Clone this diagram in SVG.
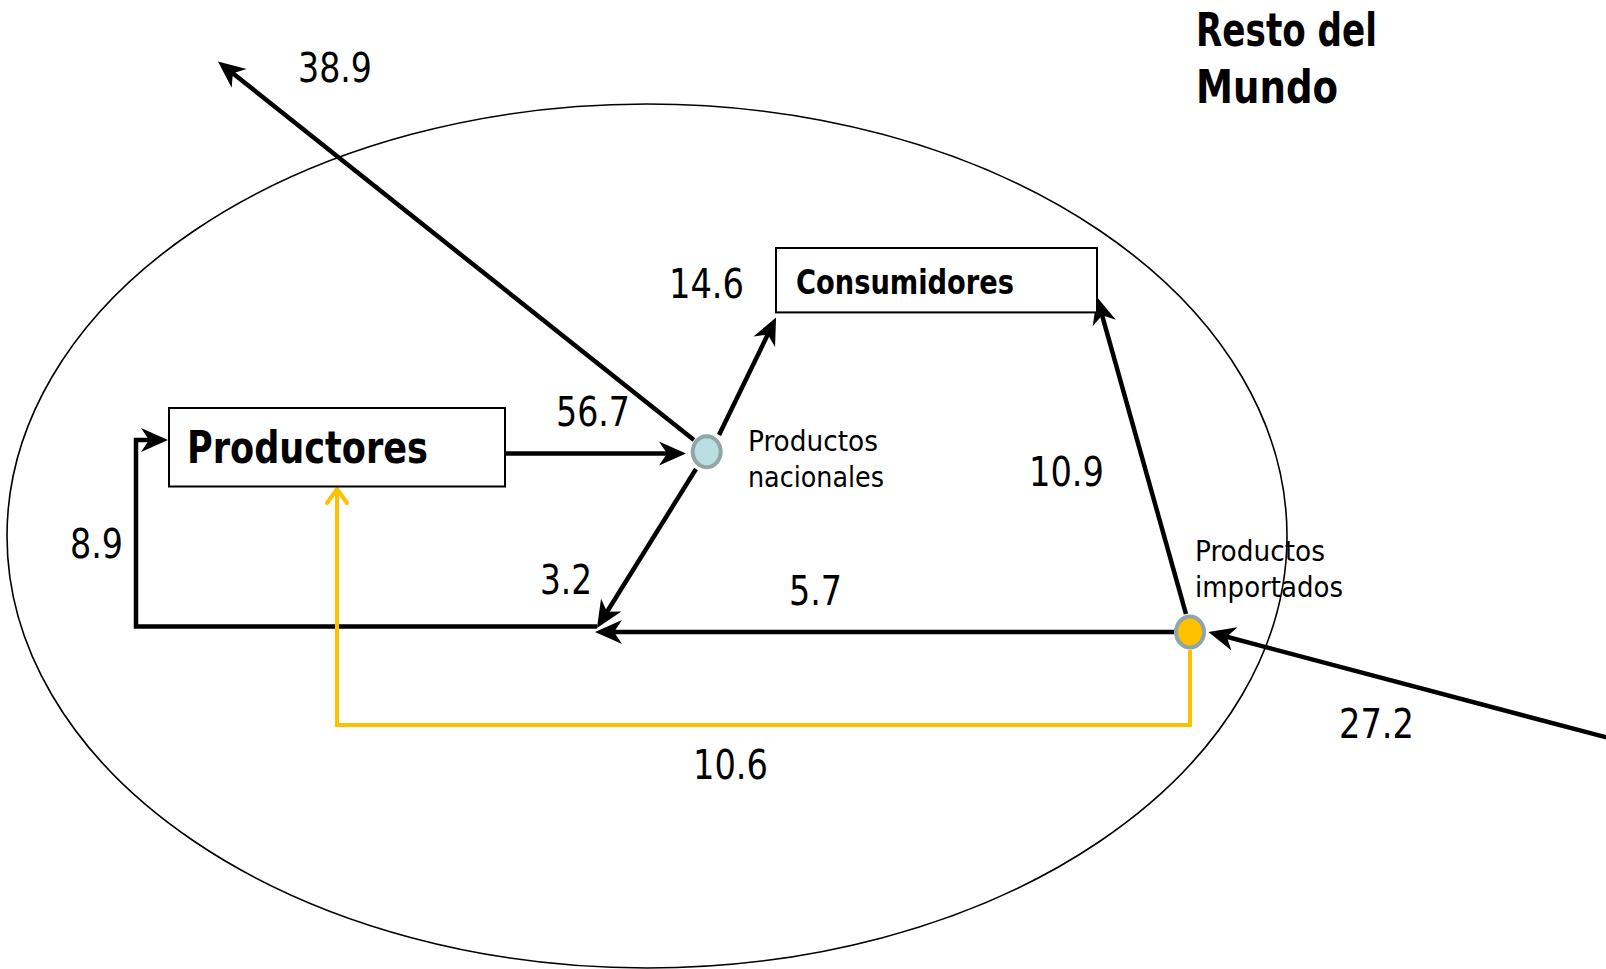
<svg xmlns="http://www.w3.org/2000/svg" width="1606" height="969" viewBox="0 0 1606 969">
<defs>
<style>
.lbl{font-family:"Liberation Sans Narrow","DejaVu Sans Condensed","Liberation Sans",sans-serif;font-size:40px;fill:#000}
.sm{font-family:"Liberation Sans Narrow","DejaVu Sans Condensed","Liberation Sans",sans-serif;font-size:29px;fill:#000}
.bold{font-family:"Liberation Sans Narrow","DejaVu Sans Condensed","Liberation Sans",sans-serif;font-weight:bold;fill:#000}
.box{fill:#fff;stroke:#000;stroke-width:2}
.flow{fill:none;stroke:#000;stroke-width:4.5;stroke-linejoin:miter}
.yflow{fill:none;stroke:#ffc000;stroke-width:4}
</style>
<marker id="ah" markerUnits="userSpaceOnUse" viewBox="-28 -14 30 28" markerWidth="30" markerHeight="28" refX="-12" refY="0" orient="auto">
<path d="M0,0 L-27,-12 L-19,0 L-27,12 Z" fill="#000"/>
</marker>
</defs>
<rect width="1606" height="969" fill="#fff"/>
<ellipse cx="647" cy="536" rx="640" ry="432" fill="none" stroke="#000" stroke-width="1.6"/>

<g id="connectors">
<line class="flow" x1="505" y1="453.5" x2="674" y2="453.5" marker-end="url(#ah)"/>
<line class="flow" x1="694" y1="440" x2="227.4" y2="69" marker-end="url(#ah)"/>
<line class="flow" x1="719" y1="435" x2="770.8" y2="328.3" marker-end="url(#ah)"/>
<line class="flow" x1="696" y1="469" x2="603.3" y2="617.8" marker-end="url(#ah)"/>
<line class="flow" x1="1186" y1="614" x2="1100.2" y2="308.6" marker-end="url(#ah)"/>
<line class="flow" x1="1174" y1="632" x2="607" y2="632" marker-end="url(#ah)"/>
<line class="flow" x1="1620" y1="741" x2="1220" y2="635" marker-end="url(#ah)"/>
<polyline class="flow" points="597,626.5 136,626.5 136,440 156,440" marker-end="url(#ah)"/>
<polyline class="yflow" points="1190,650 1190,725 337,725 337,490"/>
<polyline class="yflow" points="327,503 337,489 347,503" stroke-linecap="round" stroke-linejoin="round"/>
</g>

<g id="productores">
<rect class="box" x="169" y="408" width="336" height="78.5"/>
<text class="bold" x="187" y="463" font-size="44" textLength="241" lengthAdjust="spacingAndGlyphs">Productores</text>
</g>
<g id="consumidores">
<rect class="box" x="776" y="248" width="321" height="64.4"/>
<text class="bold" x="796" y="294" font-size="34" textLength="218" lengthAdjust="spacingAndGlyphs">Consumidores</text>
</g>
<g id="resto">
<text class="bold" x="1196" y="46" font-size="46" textLength="181" lengthAdjust="spacingAndGlyphs">Resto del</text>
<text class="bold" x="1196" y="103" font-size="46" textLength="142" lengthAdjust="spacingAndGlyphs">Mundo</text>
</g>
<g id="nacionales">
<ellipse cx="706.7" cy="451.7" rx="14" ry="15.5" fill="#b9dfe3" stroke="#8fa5a6" stroke-width="4"/>
<text class="sm" x="748" y="450.5" textLength="130" lengthAdjust="spacingAndGlyphs">Productos</text>
<text class="sm" x="748" y="486.5" textLength="136" lengthAdjust="spacingAndGlyphs">nacionales</text>
</g>
<g id="importados">
<ellipse cx="1190" cy="632" rx="14" ry="15.5" fill="#ffc000" stroke="#8fa5a6" stroke-width="4"/>
<text class="sm" x="1195" y="561" textLength="130" lengthAdjust="spacingAndGlyphs">Productos</text>
<text class="sm" x="1195" y="597" textLength="148" lengthAdjust="spacingAndGlyphs">importados</text>
</g>
<g id="labels">
<text class="lbl" x="556" y="426" textLength="74" lengthAdjust="spacingAndGlyphs">56.7</text>
<text class="lbl" x="298" y="82" textLength="74" lengthAdjust="spacingAndGlyphs">38.9</text>
<text class="lbl" x="669" y="298" textLength="75" lengthAdjust="spacingAndGlyphs">14.6</text>
<text class="lbl" x="540" y="594" textLength="52" lengthAdjust="spacingAndGlyphs">3.2</text>
<text class="lbl" x="1029" y="485.5" textLength="75" lengthAdjust="spacingAndGlyphs">10.9</text>
<text class="lbl" x="789" y="605" textLength="53" lengthAdjust="spacingAndGlyphs">5.7</text>
<text class="lbl" x="70" y="558" textLength="53" lengthAdjust="spacingAndGlyphs">8.9</text>
<text class="lbl" x="693" y="779" textLength="75" lengthAdjust="spacingAndGlyphs">10.6</text>
<text class="lbl" x="1339" y="738" textLength="75" lengthAdjust="spacingAndGlyphs">27.2</text>
</g>
</svg>
